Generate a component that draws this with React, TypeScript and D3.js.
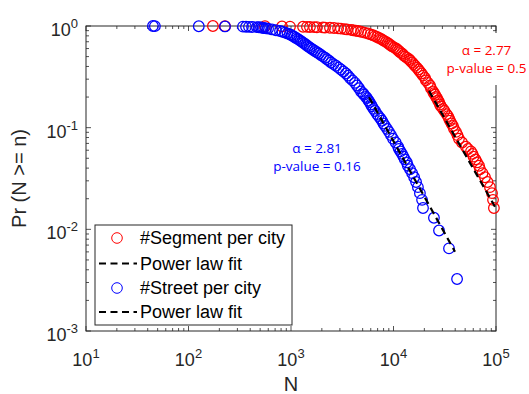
import React from "react";
import * as d3 from "d3";

// ---- Data ----
// #Street per city : CCDF points (N, Pr(N >= n))
const streetN = [41700, 34800, 27800, 24800, 19400, 19000, 18100, 17300, 16600, 15900, 15200, 14500, 13800, 13500, 12900, 12500, 12100, 11700, 11300, 11100, 10500, 9890, 9460, 9040, 8650, 8260, 7980, 7720, 7460, 7140, 6900, 6610, 6380, 6170, 6030, 5830, 5700, 5510, 5390, 5150, 5040, 4820, 4610, 4400, 4210, 3980, 3760, 3600, 3440, 3250, 3070, 2910, 2750, 2600, 2460, 2350, 2240, 2150, 2050, 1960, 1870, 1790, 1710, 1640, 1570, 1520, 1460, 1420, 1370, 1320, 1280, 1240, 1200, 1160, 1120, 1080, 1050, 1010, 978, 925, 874, 826, 781, 714, 653, 597, 570, 545, 527, 509, 487, 466, 417, 389, 364, 340, 227, 126, 47, 45];
const streetP = [0.00325, 0.00649, 0.00974, 0.013, 0.0162, 0.0195, 0.0227, 0.026, 0.0292, 0.0325, 0.0357, 0.039, 0.0422, 0.0455, 0.0487, 0.0519, 0.0552, 0.0584, 0.0617, 0.0649, 0.0714, 0.0779, 0.0844, 0.0909, 0.0974, 0.104, 0.11, 0.117, 0.123, 0.13, 0.136, 0.146, 0.153, 0.162, 0.169, 0.179, 0.185, 0.195, 0.201, 0.211, 0.218, 0.227, 0.244, 0.26, 0.276, 0.292, 0.308, 0.325, 0.341, 0.357, 0.373, 0.39, 0.406, 0.422, 0.438, 0.455, 0.471, 0.487, 0.503, 0.519, 0.536, 0.552, 0.568, 0.584, 0.601, 0.617, 0.633, 0.649, 0.666, 0.682, 0.698, 0.714, 0.731, 0.747, 0.763, 0.779, 0.795, 0.812, 0.828, 0.844, 0.86, 0.877, 0.893, 0.909, 0.925, 0.942, 0.948, 0.955, 0.961, 0.968, 0.971, 0.974, 0.977, 0.981, 0.984, 0.987, 0.99, 0.994, 0.997, 1];

// #Segment per city : CCDF points (N, Pr(N >= n))
const segmentN = [95400, 93500, 91400, 87300, 82600, 78100, 73800, 69800, 68300, 65300, 63100, 60300, 59000, 57000, 53300, 50900, 46600, 43500, 42100, 40700, 38900, 38000, 36800, 35600, 34800, 34000, 32900, 31400, 30400, 29100, 28400, 27800, 27200, 26600, 26000, 25400, 24800, 24300, 23200, 22700, 21700, 20700, 20300, 19400, 18800, 18100, 17500, 16900, 16200, 15700, 15200, 14600, 14200, 13500, 12900, 12500, 12100, 11600, 11300, 10900, 10600, 10100, 9670, 9350, 9040, 8740, 8450, 8080, 7810, 7550, 7220, 6900, 6610, 6310, 5970, 5640, 5210, 4820, 4510, 4300, 4030, 3850, 3520, 3330, 3070, 2880, 2630, 2400, 2150, 2050, 1790, 1680, 1530, 1430, 1310, 978, 817, 557, 227, 173];
const segmentP = [0.0162, 0.0195, 0.0227, 0.026, 0.0292, 0.0325, 0.0357, 0.039, 0.0422, 0.0455, 0.0487, 0.0519, 0.0552, 0.0584, 0.0617, 0.0649, 0.0714, 0.0779, 0.0844, 0.0909, 0.0974, 0.104, 0.11, 0.117, 0.123, 0.13, 0.136, 0.146, 0.153, 0.162, 0.169, 0.179, 0.185, 0.195, 0.201, 0.211, 0.218, 0.227, 0.244, 0.26, 0.276, 0.292, 0.308, 0.325, 0.341, 0.357, 0.373, 0.39, 0.406, 0.422, 0.438, 0.455, 0.471, 0.487, 0.503, 0.519, 0.536, 0.552, 0.568, 0.584, 0.601, 0.617, 0.633, 0.649, 0.666, 0.682, 0.698, 0.714, 0.731, 0.747, 0.763, 0.779, 0.795, 0.812, 0.828, 0.844, 0.86, 0.877, 0.893, 0.899, 0.909, 0.916, 0.925, 0.932, 0.942, 0.948, 0.955, 0.961, 0.964, 0.968, 0.971, 0.974, 0.977, 0.981, 0.984, 0.987, 0.99, 0.994, 0.997, 1];

// Power-law fits (start / end of the dashed lines)
const streetFitN = [5770, 39800];
const streetFitP = [0.199, 0.00603];
const segmentFitN = [22200, 97700];
const segmentFitP = [0.23, 0.0167];

const xDomain = [10, 1e5];
const yDomain = [1e-3, 1];

const legendLabels = ["#Segment per city", "Power law fit", "#Street per city", "Power law fit"];
const segmentAnnot = ["\u03b1 = 2.77", "p-value = 0.5"];
const streetAnnot = ["\u03b1 = 2.81", "p-value = 0.16"];

const RED = "#ff0000";
const BLUE = "#0000ff";
const AX = "#262626";
const FONT = "'Liberation Sans', Arial, Helvetica, sans-serif";
const AFONT = "'Open Sans', 'Noto Sans', sans-serif";

export default function App() {
  const L = 86, R = 496, T = 26, B = 331;
  const x = d3.scaleLog().domain(xDomain).range([L, R]);
  const y = d3.scaleLog().domain(yDomain).range([B, T]);
  const isMajor = (v: number) => Math.abs(Math.log10(v) - Math.round(Math.log10(v))) < 1e-9;
  const xt = x.ticks();
  const yt = y.ticks();
  const line = d3.line<[number, number]>().x((d) => x(d[0])).y((d) => y(d[1]));
  const seg = segmentN.map((n, i) => [n, segmentP[i]] as [number, number]).filter((d) => d[0] <= 1e5);
  const str = streetN.map((n, i) => [n, streetP[i]] as [number, number]);
  const segFit = segmentFitN.map((n, i) => [n, segmentFitP[i]] as [number, number]);
  const strFit = streetFitN.map((n, i) => [n, streetFitP[i]] as [number, number]);
  const r = 5.3;
  const sw = 1.25;
  const dash = "7 4.5";
  const afs = 13.5;

  const legY = [238, 263.5, 288, 312];
  return (
    <svg width={529} height={394} style={{ position: "absolute", left: 0, top: 0, background: "#fff" }} fontFamily={FONT}>
      <rect x={0} y={0} width={529} height={394} fill="#fff" />
      {/* ticks */}
      {xt.map((t, i) => {
        const len = isMajor(t) ? 5 : 3;
        const px = x(t);
        return (
          <g key={"xt" + i} stroke={AX} strokeWidth={0.8}>
            <line x1={px} x2={px} y1={B} y2={B - len} />
            <line x1={px} x2={px} y1={T} y2={T + len} />
          </g>
        );
      })}
      {yt.map((t, i) => {
        const len = isMajor(t) ? 5 : 3;
        const py = y(t);
        return (
          <g key={"yt" + i} stroke={AX} strokeWidth={0.8}>
            <line x1={L} x2={L + len} y1={py} y2={py} />
            <line x1={R} x2={R - len} y1={py} y2={py} />
          </g>
        );
      })}
      <rect x={L} y={T} width={R - L} height={B - T} fill="none" stroke={AX} strokeWidth={1} />
      {/* tick labels */}
      {xt.filter(isMajor).map((t, i) => (
        <text key={"xl" + i} x={x(t)} y={366} textAnchor="middle" fontSize={18} fill={AX}>
          <tspan>10</tspan>
          <tspan dy={-8} fontSize={13}>{Math.round(Math.log10(t))}</tspan>
        </text>
      ))}
      {yt.filter(isMajor).map((t, i) => (
        <text key={"yl" + i} x={78} y={y(t) + 10} textAnchor="end" fontSize={18} fill={AX}>
          <tspan>10</tspan>
          <tspan dy={-8} fontSize={13}>{Math.round(Math.log10(t))}</tspan>
        </text>
      ))}
      {/* axis labels */}
      <text x={(L + R) / 2} y={391} textAnchor="middle" fontSize={20} fill={AX}>N</text>
      <text transform={`translate(26,${(T + B) / 2}) rotate(-90)`} textAnchor="middle" fontSize={20} fill={AX}>
        Pr (N &gt;= n)
      </text>
      {/* data */}
      <g fill="none" stroke={RED} strokeWidth={sw}>
        {seg.map((d, i) => (
          <circle key={"s" + i} cx={x(d[0])} cy={y(d[1])} r={r} />
        ))}
      </g>
      <path d={line(segFit) || ""} fill="none" stroke="#000" strokeWidth={2.2} strokeDasharray={dash} />
      <g fill="none" stroke={BLUE} strokeWidth={sw}>
        {str.map((d, i) => (
          <circle key={"b" + i} cx={x(d[0])} cy={y(d[1])} r={r} />
        ))}
      </g>
      <path d={line(strFit) || ""} fill="none" stroke="#000" strokeWidth={2.2} strokeDasharray={dash} />
      {/* annotations */}
      <rect x={444} y={33} width={85} height={52} fill="#fff" />
      <text x={486.5} y={55} textAnchor="middle" fontSize={afs} fill={RED} fontFamily={AFONT}>{segmentAnnot[0]}</text>
      <text x={486.5} y={73} textAnchor="middle" fontSize={afs} fill={RED} fontFamily={AFONT}>{segmentAnnot[1]}</text>
      <text x={317} y={153} textAnchor="middle" fontSize={afs} fill={BLUE} fontFamily={AFONT}>{streetAnnot[0]}</text>
      <text x={317} y={171} textAnchor="middle" fontSize={afs} fill={BLUE} fontFamily={AFONT}>{streetAnnot[1]}</text>
      {/* legend */}
      <rect x={95} y={225} width={197} height={100} fill="#fff" stroke={AX} strokeWidth={1} />
      <circle cx={117} cy={legY[0]} r={r} fill="none" stroke={RED} strokeWidth={1} />
      <line x1={99} x2={137} y1={legY[1]} y2={legY[1]} stroke="#000" strokeWidth={2.2} strokeDasharray={dash} />
      <circle cx={117} cy={legY[2]} r={r} fill="none" stroke={BLUE} strokeWidth={1} />
      <line x1={99} x2={137} y1={legY[3]} y2={legY[3]} stroke="#000" strokeWidth={2.2} strokeDasharray={dash} />
      {legendLabels.map((s, i) => (
        <text key={"lg" + i} x={140} y={legY[i] + 6} fontSize={18} fill="#000">{s}</text>
      ))}
    </svg>
  );
}
